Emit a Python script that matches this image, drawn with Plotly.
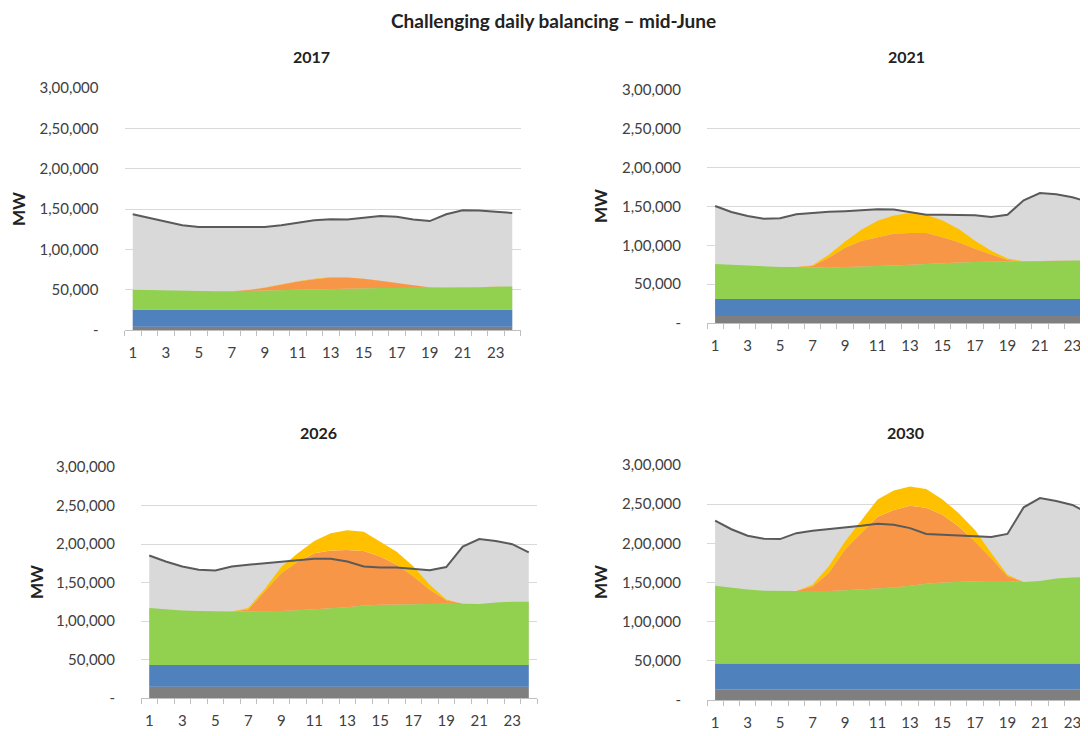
import plotly.graph_objects as go

W, H = 1088, 736
OFF = 8  # page body margin of the browser

hours = list(range(1, 25))
x_tick_vals = [1, 3, 5, 7, 9, 11, 13, 15, 17, 19, 21, 23]
y_tick_vals = [0, 50000, 100000, 150000, 200000, 250000, 300000]
y_tick_text = ["-", "50,000", "1,00,000", "1,50,000", "2,00,000", "2,50,000", "3,00,000"]

panel_titles = ["2017", "2021", "2026", "2030"]
main_title = "Challenging daily balancing \u2013 mid-June"
y_title = "MW"

nuclear_2017 = [4000] * 24
hydro_2017 = [21000] * 24
green_2017 = [25000, 24500, 24000, 23500, 23000, 23000, 23000, 23500, 24000, 24500, 25000, 25500,
              26000, 26500, 27000, 27000, 27000, 27500, 27500, 27500, 27500, 28000, 28500, 29000]
solar_2017 = [0, 0, 0, 0, 0, 0, 0, 1000, 3500, 7000, 10000, 12500,
              14000, 13500, 11500, 9000, 6000, 3000, 500, 0, 0, 0, 0, 0]
yellow_2017 = [0, 0, 0, 0, 0, 0, 0, 0, 100, 200, 300, 500,
               600, 500, 300, 200, 100, 0, 0, 0, 0, 0, 0, 0]
demand_2017 = [143400, 139000, 134700, 129800, 127700, 127700, 127700, 127700, 127700, 129800, 133000, 136000,
               137200, 137000, 139000, 141300, 140500, 137000, 135000, 143400, 148300, 148000, 146700, 145000]

nuclear_2021 = [9000] * 24
hydro_2021 = [22000] * 24
green_2021 = [45000, 44000, 42500, 42000, 41000, 41000, 40500, 40000, 41000, 41500, 42000, 43000,
              44000, 45000, 46500, 47000, 47500, 48000, 48500, 48500, 48500, 49000, 49500, 49500]
solar_2021 = [0, 0, 0, 0, 0, 0, 2000, 13000, 25000, 33000, 37500, 41000,
              41000, 40000, 33000, 26000, 17000, 9000, 1500, 0, 0, 0, 0, 0]
yellow_2021 = [0, 0, 0, 0, 0, 0, 1000, 4000, 8000, 14500, 21000, 23500,
               25500, 23500, 21500, 17000, 10500, 5000, 2000, 0, 0, 0, 0, 0]
demand_2021 = [150600, 143000, 137700, 134300, 135000, 140000, 141600, 143300, 144000, 145000, 146300, 146000,
               143000, 139400, 139400, 139400, 138600, 136400, 139400, 158000, 167400, 165700, 162000, 155800]

nuclear_2026 = [14500] * 24
hydro_2026 = [28500] * 24
green_2026 = [74000, 72500, 70500, 70000, 69500, 69500, 69500, 69500, 70000, 71000, 72000, 73500,
              75000, 77000, 78000, 78500, 79000, 79500, 79500, 79000, 79000, 81000, 82000, 82000]
solar_2026 = [0, 0, 0, 0, 0, 0, 2500, 26000, 49000, 63000, 73000, 75000,
              74300, 71000, 62700, 51500, 36000, 18200, 4500, 500, 0, 0, 0, 0]
yellow_2026 = [0, 0, 0, 0, 0, 0, 2000, 3000, 8000, 11000, 16000, 22500,
               25700, 25000, 19300, 17000, 13000, 6300, 1000, 0, 0, 0, 0, 0]
demand_2026 = [185000, 177300, 170800, 166500, 165700, 170800, 173000, 175000, 177300, 179400, 180700, 180700,
               177300, 170800, 169500, 169500, 167400, 166000, 170000, 196600, 206500, 204000, 199700, 189000]

nuclear_2030 = [13500] * 24
hydro_2030 = [33000] * 24
green_2030 = [99500, 97000, 94500, 93000, 92500, 92500, 92500, 92500, 93500, 94500, 95500, 97000,
              99500, 102000, 103500, 104500, 105000, 105500, 105500, 104000, 105500, 108500, 110000, 110500]
solar_2030 = [0, 0, 0, 0, 0, 0, 6000, 23000, 52000, 72000, 92000, 99000,
              102000, 97000, 86500, 70500, 51000, 29000, 6000, 0, 0, 0, 0, 0]
yellow_2030 = [0, 0, 0, 0, 0, 0, 2000, 8600, 10500, 17000, 22000, 25000,
               24700, 24000, 19600, 17000, 14500, 6600, 2000, 0, 0, 0, 0, 0]
demand_2030 = [229000, 218000, 209700, 206000, 205400, 213000, 216000, 218000, 220700, 222400, 225000, 223700,
               219400, 212000, 211000, 210000, 209700, 208000, 212000, 246000, 257700, 254000, 249000, 238500]

panels_data = [
    (nuclear_2017, hydro_2017, green_2017, solar_2017, yellow_2017, demand_2017),
    (nuclear_2021, hydro_2021, green_2021, solar_2021, yellow_2021, demand_2021),
    (nuclear_2026, hydro_2026, green_2026, solar_2026, yellow_2026, demand_2026),
    (nuclear_2030, hydro_2030, green_2030, solar_2030, yellow_2030, demand_2030),
]

# target screen pixels of each plot area: (left, right, top, bottom, x range end)
panel_px = [
    (124.5, 520.5, 88, 330, 24.5),
    (707, 1088, 90, 323, 23.96),
    (141, 537, 467, 698, 24.5),
    (707, 1088, 465, 700, 23.96),
]
title_px = [(311, 57), (906, 57), (318, 432), (905, 432)]
mw_px = [(18, 209), (600, 206), (36, 582), (600, 582)]


def px_x(v):
    return (v - OFF) / W


def px_y(v):
    return 1 - (v - OFF) / H


C_NUC = "#7f7f7f"
C_HYD = "#4f81bd"
C_GRN = "#92d050"
C_SOL = "#f79646"
C_YEL = "#ffc000"
C_BG = "#d9d9d9"
C_LINE = "#5a5a5a"
TXT = "#404040"
FONT = "Lato"

fig = go.Figure()

for i, (nuc, hyd, grn, sol, yel, dem) in enumerate(panels_data):
    n = "" if i == 0 else str(i + 1)
    xa, ya = "x" + n, "y" + n
    sg = "s" + str(i)
    fig.add_trace(go.Scatter(x=hours, y=dem, xaxis=xa, yaxis=ya, mode="lines", fill="tozeroy",
                             fillcolor=C_BG, line=dict(width=0, color=C_BG), showlegend=False,
                             hoverinfo="skip"))
    for vals, col in [(nuc, C_NUC), (hyd, C_HYD), (grn, C_GRN), (sol, C_SOL), (yel, C_YEL)]:
        fig.add_trace(go.Scatter(x=hours, y=vals, xaxis=xa, yaxis=ya, mode="lines", stackgroup=sg,
                                 fillcolor=col, line=dict(width=0, color=col), showlegend=False))
    fig.add_trace(go.Scatter(x=hours, y=dem, xaxis=xa, yaxis=ya, mode="lines",
                             line=dict(width=2, color=C_LINE), showlegend=False))

    l, r, t, b, xend = panel_px[i]
    xdom = [max(0, px_x(l)), min(1, px_x(r))]
    ydom = [px_y(b), px_y(t)]
    fig.layout["xaxis" + n] = dict(
        domain=xdom, range=[0.5, xend], anchor=ya, tickmode="array", tickvals=x_tick_vals,
        ticks="", showgrid=False, showline=True, linecolor="#bfbfbf", linewidth=1, zeroline=False,
        automargin=False,
        tickfont=dict(family=FONT, size=15, color=TXT), ticklabelstandoff=9,
        minor=dict(tick0=0.5, dtick=1, ticks="outside", ticklen=5, tickcolor="#bfbfbf", showgrid=False),
    )
    fig.layout["yaxis" + n] = dict(
        domain=ydom, range=[0, 300000], anchor=xa, tickmode="array", tickvals=y_tick_vals,
        ticktext=y_tick_text, ticks="", showgrid=True, gridcolor="#d9d9d9", gridwidth=1,
        automargin=False,
        showline=False, zeroline=False, tickfont=dict(family=FONT, size=15, color=TXT),
        ticklabelstandoff=25,
    )
    tx, ty = title_px[i]
    fig.add_annotation(x=px_x(tx), y=px_y(ty), xref="paper", yref="paper", text="<b>%s</b>" % panel_titles[i],
                       showarrow=False, font=dict(family=FONT, size=16, color="#222222"),
                       xanchor="center", yanchor="middle")
    mx, my = mw_px[i]
    fig.add_annotation(x=px_x(mx), y=px_y(my), xref="paper", yref="paper", text="<b>%s</b>" % y_title,
                       showarrow=False, textangle=-90, font=dict(family=FONT, size=17, color="#222222"),
                       xanchor="center", yanchor="middle")

fig.add_annotation(x=px_x(553), y=1.0, xref="paper", yref="paper", text="<b>%s</b>" % main_title,
                   showarrow=False, font=dict(family=FONT, size=19, color="#222222"),
                   xanchor="center", yanchor="top", borderpad=0)

fig.update_layout(width=W, height=H, margin=dict(l=0, r=0, t=0, b=0, pad=0), autosize=False,
                  paper_bgcolor="white", plot_bgcolor="white", showlegend=False)

fig.write_html("out.html")
